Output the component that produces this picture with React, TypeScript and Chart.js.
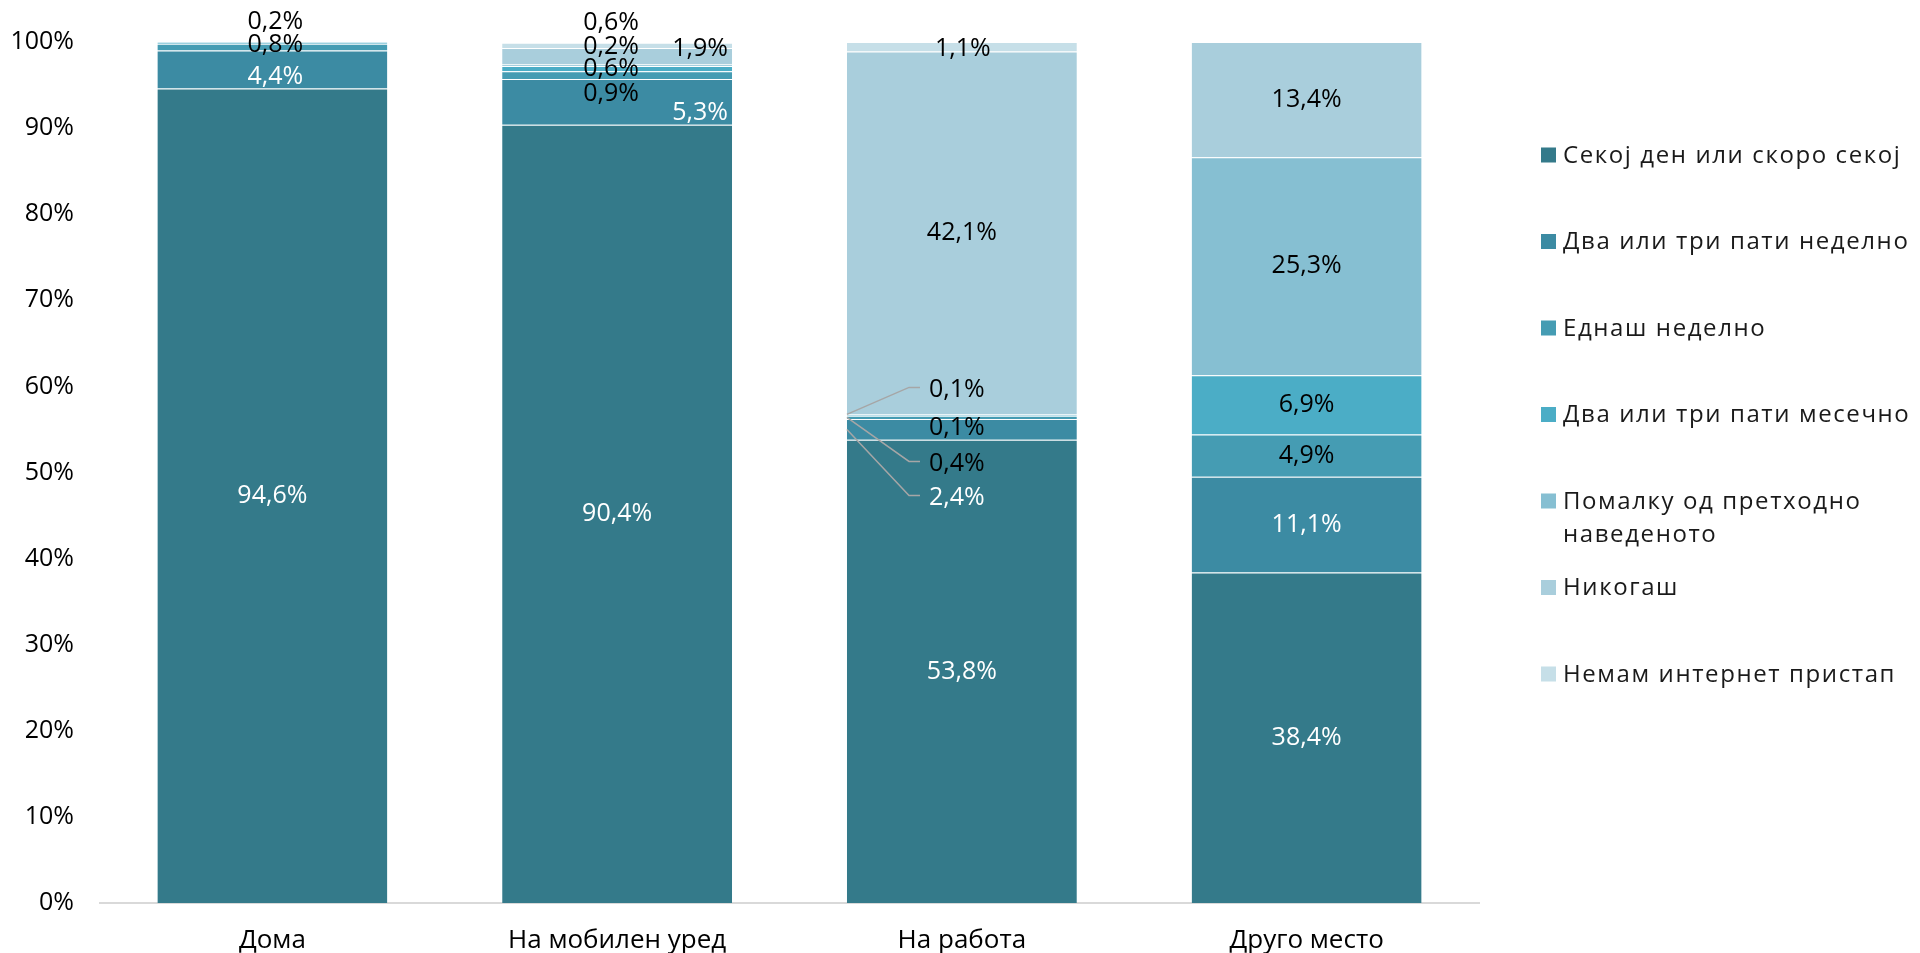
import React, { useEffect, useRef } from 'react';
import { Chart, registerables } from 'chart.js';

Chart.register(...registerables);

// ---------- data ----------
const categories = ['Дома', 'На мобилен уред', 'На работа', 'Друго место'];
const seriesNames = [
  'Секој ден или скоро секој',
  'Два или три пати неделно',
  'Еднаш неделно',
  'Два или три пати месечно',
  'Помалку од претходно наведеното',
  'Никогаш',
  'Немам интернет пристап',
];
const daily = [94.6, 90.4, 53.8, 38.4];
const twoThreeWeekly = [4.4, 5.3, 2.4, 11.1];
const onceWeekly = [0.8, 0.9, 0.4, 4.9];
const twoThreeMonthly = [0.2, 0.6, 0.1, 6.9];
const lessOften = [0, 0.2, 0.1, 25.3];
const never = [0, 1.9, 42.1, 13.4];
const noAccess = [0, 0.6, 1.1, 0];
const seriesValues = [daily, twoThreeWeekly, onceWeekly, twoThreeMonthly, lessOften, never, noAccess];
const yTickValues = [0, 10, 20, 30, 40, 50, 60, 70, 80, 90, 100];

// ---------- styles ----------
const colors = ['#347A8A', '#3C8BA3', '#459CB3', '#4BADC6', '#86BFD2', '#A9CEDC', '#C6DFE8'];
const FONT = '"Open Sans", "DejaVu Sans", sans-serif';
const Y_TICK_SIZE = 25;
const X_TICK_SIZE = 26;
const LABEL_SIZE = 25;
const LEGEND_SIZE = 24;

// label nudges (series index - category index) in px, like manually moved Excel labels
const LABEL_OFFSETS: Record<string, { dx: number; dy: number; leader?: boolean }> = {
  '1-0': { dx: 3, dy: 7 },
  '2-0': { dx: 3, dy: -2 },
  '3-0': { dx: 3, dy: -21 },
  '1-1': { dx: 83, dy: 11 },
  '2-1': { dx: -6, dy: 19 },
  '3-1': { dx: -6, dy: 0 },
  '4-1': { dx: -6, dy: -18 },
  '5-1': { dx: 83, dy: -7 },
  '6-1': { dx: -6, dy: -23 },
  '1-2': { dx: -5, dy: 68, leader: true },
  '2-2': { dx: -5, dy: 46, leader: true },
  '3-2': { dx: -5, dy: 13 },
  '4-2': { dx: -5, dy: -25, leader: true },
  '6-2': { dx: 1, dy: 2 },
};

const fmt = (v: number) => v.toFixed(1).replace('.', ',') + '%';

const labelPlugin = {
  id: 'segLabels',
  afterDatasetsDraw(chart: any) {
    const ctx = chart.ctx as CanvasRenderingContext2D;
    ctx.save();
    ctx.font = `${LABEL_SIZE}px ${FONT}`;
    ctx.textAlign = 'center';
    ctx.textBaseline = 'middle';
    chart.data.datasets.forEach((ds: any, i: number) => {
      const meta = chart.getDatasetMeta(i);
      meta.data.forEach((el: any, j: number) => {
        const v = ds.data[j];
        if (!v) return;
        const { x, y, base, width } = el.getProps(['x', 'y', 'base', 'width'], true);
        const cy = (y + base) / 2;
        const off = LABEL_OFFSETS[`${i}-${j}`] || { dx: 0, dy: 0 };
        const lx = x + off.dx;
        const ly = cy + off.dy;
        const text = fmt(v);
        if (off.leader) {
          const tw = ctx.measureText(text).width;
          const left = lx - tw / 2;
          ctx.strokeStyle = '#A6A6A6';
          ctx.lineWidth = 1.5;
          ctx.beginPath();
          ctx.moveTo(x - width / 2, cy);
          ctx.lineTo(left - 20, ly - 2);
          ctx.lineTo(left - 9, ly - 2);
          ctx.stroke();
        }
        ctx.fillStyle = i < 2 ? '#FFFFFF' : '#000000';
        ctx.fillText(text, lx, ly);
      });
    });
    ctx.restore();
  },
};

function wrapText(ctx: CanvasRenderingContext2D, text: string, max: number) {
  const words = text.split(' ');
  const lines: string[] = [];
  let cur = '';
  words.forEach((w) => {
    const t = cur ? cur + ' ' + w : w;
    if (ctx.measureText(t).width > max && cur) {
      lines.push(cur);
      cur = w;
    } else cur = t;
  });
  if (cur) lines.push(cur);
  return lines;
}

const LEGEND_X = 1541;
const LEGEND_TOP = 155;
const LEGEND_STEP = 86.5;
const LEGEND_WRAP = 420;
const LEGEND_LINE = 33;

const legendPlugin = {
  id: 'sideLegend',
  afterDraw(chart: any) {
    const ctx = chart.ctx as CanvasRenderingContext2D;
    ctx.save();
    ctx.font = `${LEGEND_SIZE}px ${FONT}`;
    (ctx as any).letterSpacing = '1.6px';
    ctx.textBaseline = 'middle';
    ctx.textAlign = 'left';
    chart.data.datasets.forEach((ds: any, i: number) => {
      const cy = LEGEND_TOP + i * LEGEND_STEP;
      ctx.fillStyle = ds.backgroundColor;
      ctx.fillRect(LEGEND_X, cy - 7.5, 15, 15);
      ctx.fillStyle = '#1A1A1A';
      const lines = wrapText(ctx, ds.label, LEGEND_WRAP);
      lines.forEach((ln, k) => ctx.fillText(ln, LEGEND_X + 22, cy + 1 + k * LEGEND_LINE));
    });
    (ctx as any).letterSpacing = '0px';
    ctx.restore();
  },
};

export default function App() {
  const ref = useRef<HTMLCanvasElement>(null);
  useEffect(() => {
    if (!ref.current) return;
    const chart = new Chart(ref.current, {
      type: 'bar',
      data: {
        labels: categories,
        datasets: seriesNames.map((name, i) => ({
          label: name,
          data: seriesValues[i],
          backgroundColor: colors[i],
          borderColor: 'rgba(255,255,255,0.22)',
          borderWidth: { top: 1, left: 0, right: 0, bottom: 0 },
          borderSkipped: false,
          barPercentage: 0.667,
          categoryPercentage: 1,
        })),
      },
      options: {
        responsive: false,
        devicePixelRatio: 1,
        animation: false,
        layout: { padding: { left: 0, right: 441, top: 42, bottom: 0 } },
        plugins: { legend: { display: false }, tooltip: { enabled: false } },
        font: { family: FONT },
        scales: {
          x: {
            stacked: true,
            grid: { display: false, drawTicks: false },
            border: { display: true, color: '#D9D9D9', width: 2 },
            ticks: { color: '#000', font: { family: FONT, size: X_TICK_SIZE }, padding: 22 },
            afterFit: (s: any) => { s.height = 50; },
          },
          y: {
            stacked: true,
            min: 0,
            max: 100,
            grid: { display: false, drawTicks: false },
            border: { display: false },
            afterBuildTicks: (s: any) => { s.ticks = yTickValues.map((v) => ({ value: v })); },
            ticks: {
              color: '#000',
              font: { family: FONT, size: Y_TICK_SIZE },
              padding: 26,
              callback: (v: any) => v + '%',
            },
            afterFit: (s: any) => { s.width = 100; },
          },
        },
      } as any,
      plugins: [labelPlugin, legendPlugin],
    });
    return () => chart.destroy();
  }, []);
  return (
    <div style={{ position: 'fixed', left: 0, top: 0, width: 1920, height: 953, background: '#fff' }}>
      <canvas ref={ref} width={1920} height={953} style={{ display: 'block', width: 1920, height: 953 }} />
    </div>
  );
}
